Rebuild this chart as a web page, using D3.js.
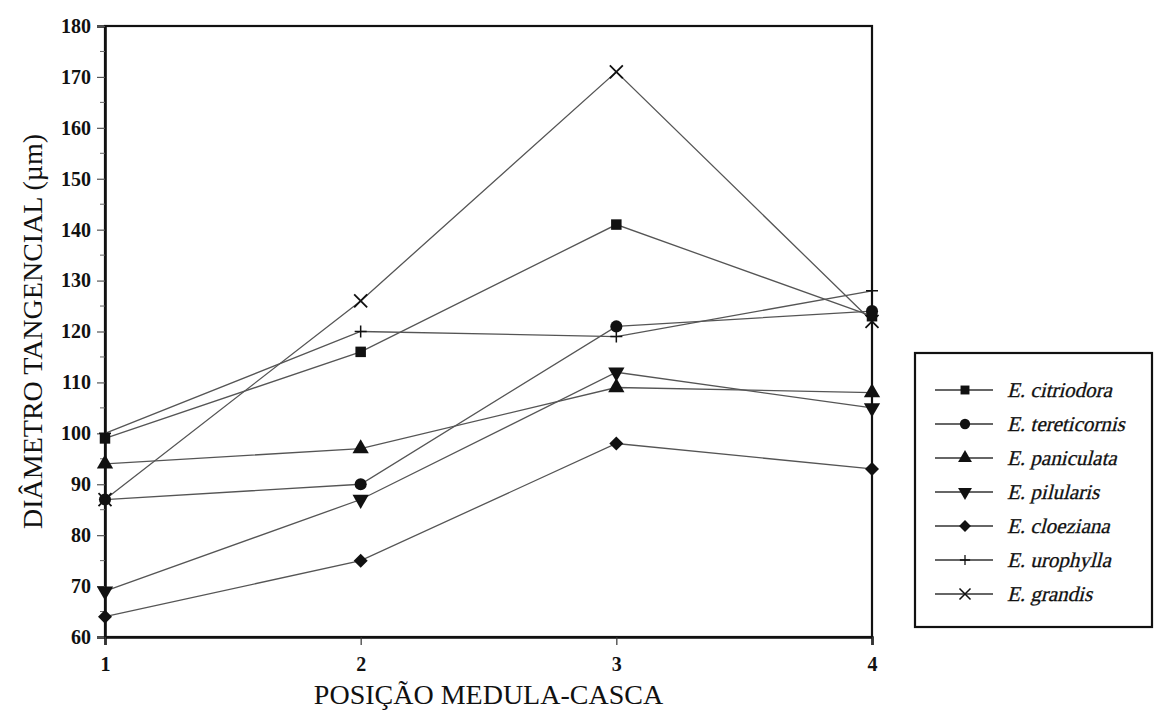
<!DOCTYPE html>
<html>
<head>
<meta charset="utf-8">
<script src="https://cdn.jsdelivr.net/npm/d3@7"></script>
<style>
  body { margin: 0; background: #fff; }
  text { font-family: "Liberation Serif", "DejaVu Serif", serif; }
</style>
</head>
<body>
<script>
// posição medula-casca
var positions = [1, 2, 3, 4];
var species = ["E. citriodora", "E. tereticornis", "E. paniculata", "E. pilularis",
               "E. cloeziana", "E. urophylla", "E. grandis"];
var markers = ["square", "circle", "triangle", "triangleDown", "diamond", "plus", "cross"];

var citriodora   = [99, 116, 141, 123];
var tereticornis = [87, 90, 121, 124];
var paniculata   = [94, 97, 109, 108];
var pilularis    = [69, 87, 112, 105];
var cloeziana    = [64, 75, 98, 93];
var urophylla    = [100, 120, 119, 128];
var grandis      = [87, 126, 171, 122];

var yTicks = d3.range(60, 181, 10);

var series = [citriodora, tereticornis, paniculata, pilularis, cloeziana, urophylla, grandis]
  .map(function (vals, i) {
    return { name: species[i], marker: markers[i], values: vals };
  });

var width = 1154, height = 711;
var margin = { left: 105, right: 282, top: 26, bottom: 74 };

var svg = d3.select('body').append('svg')
    .attr('width', width)
    .attr('height', height);

var x = d3.scaleLinear().domain([1, 4]).range([margin.left, width - margin.right]);
var y = d3.scaleLinear().domain([60, 180]).range([height - margin.bottom, margin.top]);

function drawMarker(g, kind) {
  if (kind === "plus") {
    g.append('path').attr('d', 'M-6,0H6M0,-6V6')
      .attr('stroke', '#111').attr('stroke-width', 1.5).attr('fill', 'none');
  } else if (kind === "cross") {
    g.append('path').attr('d', 'M-6.5,-6.5L6.5,6.5M-6.5,6.5L6.5,-6.5')
      .attr('stroke', '#111').attr('stroke-width', 1.8).attr('fill', 'none');
  } else if (kind === "diamond") {
    g.append('path').attr('d', 'M0,-7L7,0L0,7L-7,0Z').attr('fill', '#111');
  } else {
    var sym = {
      square: d3.symbol().type(d3.symbolSquare).size(110),
      circle: d3.symbol().type(d3.symbolCircle).size(115),
      triangle: d3.symbol().type(d3.symbolTriangle).size(115),
      triangleDown: d3.symbol().type(d3.symbolTriangle).size(115)
    }[kind];
    g.append('path').attr('d', sym())
      .attr('transform', kind === "triangleDown" ? 'rotate(180)' : null)
      .attr('fill', '#111');
  }
}

// frame
svg.append('rect')
  .attr('x', x(1)).attr('y', y(180))
  .attr('width', x(4) - x(1)).attr('height', y(60) - y(180))
  .attr('fill', 'none').attr('stroke', '#111').attr('stroke-width', 2.2);

// y axis
var yAxis = d3.axisLeft(y).tickValues(yTicks).tickSize(8).tickPadding(6).tickFormat(d3.format('d'));
var gy = svg.append('g').attr('transform', 'translate(' + x(1) + ',0)').call(yAxis);
gy.select('.domain').attr('stroke', '#111').attr('stroke-width', 2.6);
gy.selectAll('.tick line').attr('stroke', '#555').attr('stroke-width', 1.2);
gy.selectAll('.tick text').attr('fill', '#111').style('font-size', '20px').style('font-weight', 'bold')
  .style('font-family', '"Liberation Serif", serif');
// minor ticks
gy.selectAll('.minor').data(d3.range(65, 180, 10)).enter().append('line')
  .attr('class', 'minor')
  .attr('x1', -5).attr('x2', 0)
  .attr('y1', function (d) { return y(d); }).attr('y2', function (d) { return y(d); })
  .attr('stroke', '#666').attr('stroke-width', 1);

// x axis
var xAxis = d3.axisBottom(x).tickValues(positions).tickSize(8).tickPadding(12).tickFormat(d3.format('d'));
var gx = svg.append('g').attr('transform', 'translate(0,' + y(60) + ')').call(xAxis);
gx.select('.domain').attr('stroke', '#111').attr('stroke-width', 2.6);
gx.selectAll('.tick line').attr('stroke', '#333').attr('stroke-width', 1.2);
gx.selectAll('.tick text').attr('fill', '#111').style('font-size', '20px').style('font-weight', 'bold')
  .style('font-family', '"Liberation Serif", serif');

// axis titles
svg.append('text')
  .attr('transform', 'translate(42,' + ((y(60) + y(180)) / 2) + ') rotate(-90)')
  .attr('text-anchor', 'middle')
  .style('font-size', '28px').attr('fill', '#111')
  .text('DIÂMETRO TANGENCIAL (µm)');

svg.append('text')
  .attr('x', (x(1) + x(4)) / 2).attr('y', 704)
  .attr('text-anchor', 'middle')
  .style('font-size', '28px').attr('fill', '#111')
  .text('POSIÇÃO MEDULA-CASCA');

// lines
var line = d3.line()
  .x(function (d, i) { return x(positions[i]); })
  .y(function (d) { return y(d); });

svg.selectAll('.series').data(series).enter().append('path')
  .attr('class', 'series')
  .attr('d', function (d) { return line(d.values); })
  .attr('fill', 'none').attr('stroke', '#555').attr('stroke-width', 1.3);

series.forEach(function (s) {
  s.values.forEach(function (v, i) {
    var g = svg.append('g').attr('transform', 'translate(' + x(positions[i]) + ',' + y(v) + ')');
    drawMarker(g, s.marker);
  });
});

// legend
var lg = svg.append('g').attr('transform', 'translate(915,353)');
lg.append('rect').attr('x', 0).attr('y', 0).attr('width', 237).attr('height', 274)
  .attr('fill', '#fff').attr('stroke', '#111').attr('stroke-width', 2.2);
series.forEach(function (s, i) {
  var row = lg.append('g').attr('transform', 'translate(0,' + (37 + i * 34) + ')');
  row.append('line').attr('x1', 20).attr('x2', 78).attr('y1', 0).attr('y2', 0)
    .attr('stroke', '#333').attr('stroke-width', 1.3);
  var m = row.append('g').attr('transform', 'translate(50,0) scale(0.85)');
  drawMarker(m, s.marker);
  // slanted serif text (italic face)
  row.append('text').attr('transform', 'translate(92,7) skewX(-14)')
    .style('font-size', '21px').attr('fill', '#111')
    .attr('stroke', '#111').attr('stroke-width', 0.3)
    .style('font-family', '"Liberation Serif", serif')
    .text(s.name);
});
</script>
</body>
</html>
